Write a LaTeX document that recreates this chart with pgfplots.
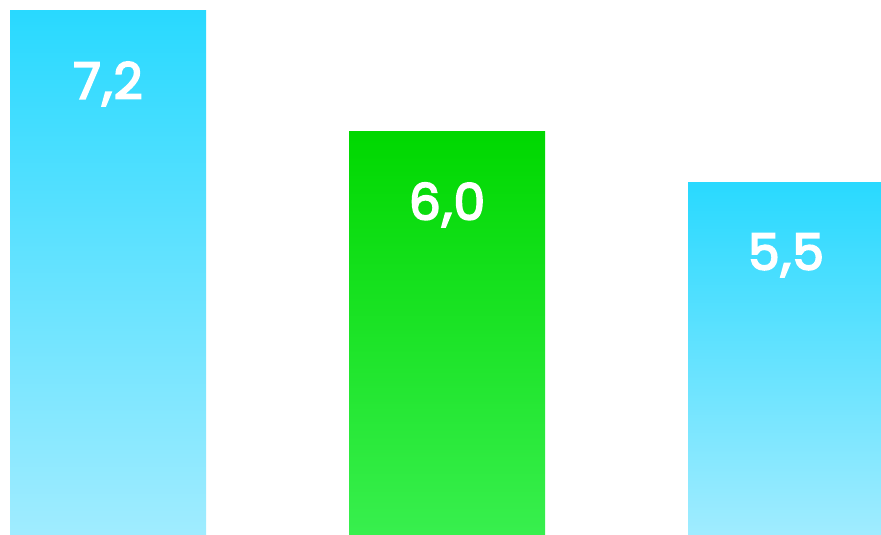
\documentclass[border=0pt]{standalone}
\usepackage{pgfplots}
\pgfplotsset{compat=1.18}
\usepackage{fontspec}
\setmainfont{Poppins}
\newfontfamily\labfont{Poppins}[LetterSpace=3]
\newcommand\thick[1]{\special{pdf:literal 2 Tr 1.9 w 1 1 1 RG}#1\special{pdf:literal 0 Tr}}
\definecolor{cyantop}{HTML}{29D9FF}
\definecolor{cyanbot}{HTML}{A0ECFF}
\definecolor{greentop}{HTML}{00D800}
\definecolor{greenbot}{HTML}{38EF4E}
\begin{document}
\begin{tikzpicture}
\begin{axis}[
  name=ax,
  scale only axis,
  width=881pt, height=535pt,
  xmin=-0.3186, xmax=2.2802,
  ymin=2, ymax=7.308,
  axis lines=none,
  ybar, bar width=196pt, bar shift=0pt,
  point meta=explicit symbolic,
  nodes near coords={\thick{\pgfplotspointmeta}},
  every node near coord/.style={anchor=center, yshift=-73pt, text=white, font=\fontsize{50}{55}\selectfont\labfont},
]
\addplot[draw=none, top color=cyantop, bottom color=cyanbot] coordinates {(0,7.2) [7,2]};
\addplot[draw=none, top color=greentop, bottom color=greenbot] coordinates {(1,6.0) [6,0]};
\addplot[draw=none, top color=cyantop, bottom color=cyanbot] coordinates {(2,5.5) [5,5]};
\end{axis}
\pgfresetboundingbox
\useasboundingbox (ax.south west) rectangle (ax.north east);
\end{tikzpicture}
\end{document}
